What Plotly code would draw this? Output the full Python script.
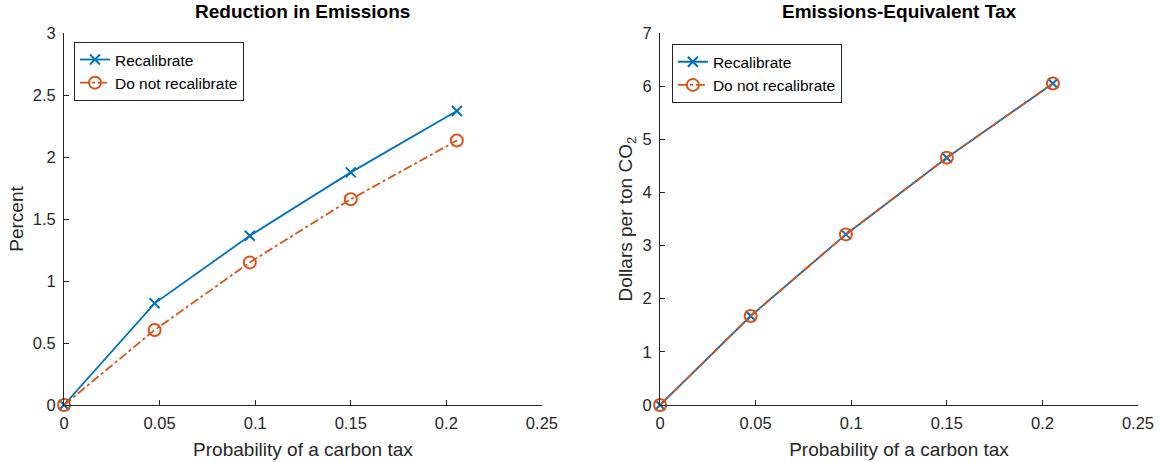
import plotly.graph_objects as go
from plotly.subplots import make_subplots

prob = [0, 0.0474, 0.0972, 0.1500, 0.2055]
red_recal = [0, 0.82, 1.365, 1.876, 2.371]
red_norecal = [0, 0.605, 1.15, 1.659, 2.133]
tax_recal = [0, 1.675, 3.21, 4.654, 6.05]
tax_norecal = [0, 1.675, 3.21, 4.654, 6.05]

x_ticks = [0, 0.05, 0.1, 0.15, 0.2, 0.25]
y1_ticks = [0, 0.5, 1, 1.5, 2, 2.5, 3]
y2_ticks = [0, 1, 2, 3, 4, 5, 6, 7]

BLUE = "#0072BD"
ORANGE = "#D95319"
AX = "#262626"
FONT = "Liberation Sans, Arial, Helvetica, sans-serif"

fig = make_subplots(rows=1, cols=2, horizontal_spacing=0.11)

def add_pair(col, y_a, y_b, legend):
    fig.add_trace(go.Scatter(
        x=prob, y=y_a, name="Recalibrate", mode="lines+markers",
        line=dict(color=BLUE, width=1.8),
        marker=dict(symbol="x-thin", size=10, line=dict(color=BLUE, width=2)),
        cliponaxis=False, legend=legend), row=1, col=col)
    fig.add_trace(go.Scatter(
        x=prob, y=y_b, name="Do not recalibrate", mode="lines+markers",
        line=dict(color=ORANGE, width=1.8, dash="dashdot"),
        marker=dict(symbol="circle-open", size=12, line=dict(color=ORANGE, width=2)),
        cliponaxis=False, legend=legend), row=1, col=col)

add_pair(1, red_recal, red_norecal, "legend")
add_pair(2, tax_recal, tax_norecal, "legend2")

axis_common = dict(showgrid=False, zeroline=False, showline=True, linecolor=AX, linewidth=1,
                   ticks="inside", ticklen=5, tickcolor=AX, tickwidth=1, automargin=False,
                   tickfont=dict(size=16.5, color=AX, family=FONT), mirror=False)

fig.update_xaxes(**axis_common, range=[0, 0.25], tickvals=x_ticks, ticklabelstandoff=3,
                 title=dict(text="Probability of a carbon tax", font=dict(size=19, color=AX, family=FONT), standoff=11))
fig.update_yaxes(**axis_common, ticklabelstandoff=4)
fig.update_yaxes(range=[0, 3], tickvals=y1_ticks, row=1, col=1,
                 title=dict(text="Percent", font=dict(size=19, color=AX, family=FONT), standoff=4))
fig.update_yaxes(range=[0, 7], tickvals=y2_ticks, row=1, col=2,
                 title=dict(text="Dollars per ton CO<sub>2</sub>", font=dict(size=19, color=AX, family=FONT), standoff=4))

fig.update_layout(
    width=1159, height=462,
    margin=dict(l=64, r=21, t=33, b=57),
    plot_bgcolor="white", paper_bgcolor="white",
    font=dict(family=FONT, color=AX),
    xaxis=dict(domain=[0, 0.445]),
    xaxis2=dict(domain=[0.555, 1]),
    legend=dict(x=0.0093, y=0.976, xanchor="left", yanchor="top",
                bordercolor=AX, borderwidth=1, bgcolor="white",
                font=dict(size=15.5, family=FONT, color="black"), tracegroupgap=0, itemwidth=30),
    legend2=dict(x=0.566, y=0.97, xanchor="left", yanchor="top",
                 bordercolor=AX, borderwidth=1, bgcolor="white",
                 font=dict(size=15.5, family=FONT, color="black"), tracegroupgap=0, itemwidth=30),
    annotations=[
        dict(text="<b>Reduction in Emissions</b>", x=0.2225, y=1, xref="paper", yref="paper",
             xanchor="center", yanchor="middle", yshift=22, showarrow=False,
             font=dict(size=19, color="black", family=FONT)),
        dict(text="<b>Emissions-Equivalent Tax</b>", x=0.7775, y=1, xref="paper", yref="paper",
             xanchor="center", yanchor="middle", yshift=22, showarrow=False,
             font=dict(size=19, color="black", family=FONT)),
    ],
)

fig.write_html("out.html", config={"displayModeBar": False},
               post_script="document.body.style.margin='0px';")
